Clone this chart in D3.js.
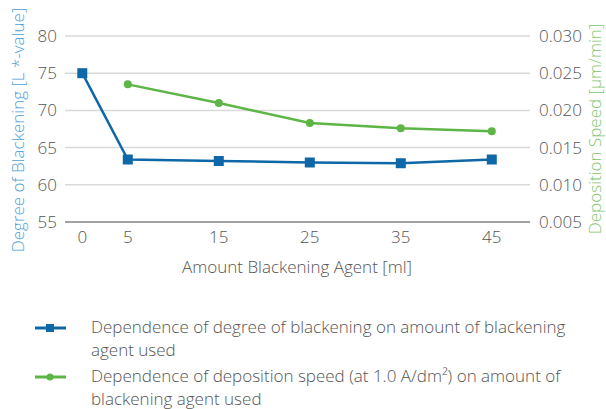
<!DOCTYPE html>
<html>
<head>
<meta charset="utf-8">
<script src="https://cdn.jsdelivr.net/npm/d3@7"></script>
<style>
  body { margin: 0; background: #fff; }
  text { font-family: "Open Sans", sans-serif; font-weight: 300; fill: #555; }
</style>
</head>
<body>
<div id="chart"></div>
<script>
// data
const amounts = [0, 5, 15, 25, 35, 45]
const blackening = [75, 63.4, 63.2, 63.0, 62.9, 63.4]
const depAmounts = [5, 15, 25, 35, 45]
const depSpeed = [0.0235, 0.0210, 0.0183, 0.0176, 0.0172]
const leftTicks = [55, 60, 65, 70, 75, 80]
const rightTicks = [0.005, 0.010, 0.015, 0.020, 0.025, 0.030]
const legendLines = [
  ["Dependence of degree of blackening on amount of blackening", "agent used"],
  ["Dependence of deposition speed (at 1.0 A/dm²) on amount of", "blackening agent used"]
]

const blue = "#0e68a8", green = "#5cb544"

let svg = d3.select("#chart").append("svg")
    .attr("width", 606)
    .attr("height", 409)

const x = d3.scaleLinear().domain([-1.9, 49.2]).range([65, 530])
const yL = d3.scaleLinear().domain([55, 80]).range([222, 36])
const yR = d3.scaleLinear().domain([0.005, 0.030]).range([222, 36])

// gridlines
svg.selectAll("grid")
    .data(leftTicks.slice(1))
    .enter().append("line")
    .attr("x1", 65).attr("x2", 530)
    .attr("y1", d => yL(d)).attr("y2", d => yL(d))
    .attr("stroke", "#d9d9d9")
    .attr("stroke-width", 1.5)

svg.append("line")
    .attr("x1", 65).attr("x2", 530)
    .attr("y1", yL(55)).attr("y2", yL(55))
    .attr("stroke", "#444")
    .attr("stroke-width", 1)

// left ticks
svg.selectAll("lt")
    .data(leftTicks)
    .enter().append("text")
    .text(d => d)
    .attr("x", 57)
    .attr("y", d => yL(d) + 6)
    .attr("text-anchor", "end")
    .attr("font-size", 17)

// right ticks
svg.selectAll("rt")
    .data(rightTicks)
    .enter().append("text")
    .text(d => d3.format(".3f")(d))
    .attr("x", 539)
    .attr("y", d => yR(d) + 6)
    .attr("font-size", 17)

// x ticks
svg.selectAll("xt")
    .data(amounts)
    .enter().append("text")
    .text(d => d)
    .attr("x", d => x(d))
    .attr("y", 243)
    .attr("text-anchor", "middle")
    .attr("font-size", 17)

svg.append("text")
    .text("Amount Blackening Agent [ml]")
    .attr("x", 297).attr("y", 273)
    .attr("text-anchor", "middle")
    .attr("font-size", 17)

svg.append("text")
    .text("Degree of Blackening [L *-value]")
    .attr("transform", "translate(24,130) rotate(-90)")
    .attr("text-anchor", "middle")
    .attr("font-size", 17)
    .style("fill", "#4ba0d6")

svg.append("text")
    .text("Deposition Speed [µm/min]")
    .attr("transform", "translate(601,129) rotate(-90)")
    .attr("text-anchor", "middle")
    .attr("font-size", 17)
    .style("fill", "#80c66c")

// series
const blueData = amounts.map((a, i) => [a, blackening[i]])
const greenData = depAmounts.map((a, i) => [a, depSpeed[i]])

svg.append("path")
    .datum(greenData)
    .attr("d", d3.line().x(d => x(d[0])).y(d => yR(d[1])))
    .attr("fill", "none").attr("stroke", green).attr("stroke-width", 2.5)

svg.selectAll("gdots")
    .data(greenData)
    .enter().append("circle")
    .attr("cx", d => x(d[0])).attr("cy", d => yR(d[1]))
    .attr("r", 4).attr("fill", green)

svg.append("path")
    .datum(blueData)
    .attr("d", d3.line().x(d => x(d[0])).y(d => yL(d[1])))
    .attr("fill", "none").attr("stroke", blue).attr("stroke-width", 2.5)

svg.selectAll("bdots")
    .data(blueData)
    .enter().append("rect")
    .attr("x", d => x(d[0]) - 5).attr("y", d => yL(d[1]) - 5)
    .attr("width", 10).attr("height", 10)
    .attr("fill", blue)

// legend
const legendColors = [blue, green]
legendLines.forEach((lines, i) => {
    const ly = 328 + i * 49
    svg.append("line")
        .attr("x1", 35).attr("x2", 66)
        .attr("y1", ly).attr("y2", ly)
        .attr("stroke", legendColors[i]).attr("stroke-width", 3)
    if (i == 0) {
        svg.append("rect").attr("x", 46).attr("y", ly - 4)
            .attr("width", 8).attr("height", 8).attr("fill", blue)
    } else {
        svg.append("circle").attr("cx", 50).attr("cy", ly).attr("r", 3.5).attr("fill", green)
    }
    lines.forEach((t, j) => {
        svg.append("text")
            .text(t)
            .attr("x", 91).attr("y", ly + 5 + j * 23)
            .attr("font-size", 17)
    })
})
</script>
</body>
</html>
